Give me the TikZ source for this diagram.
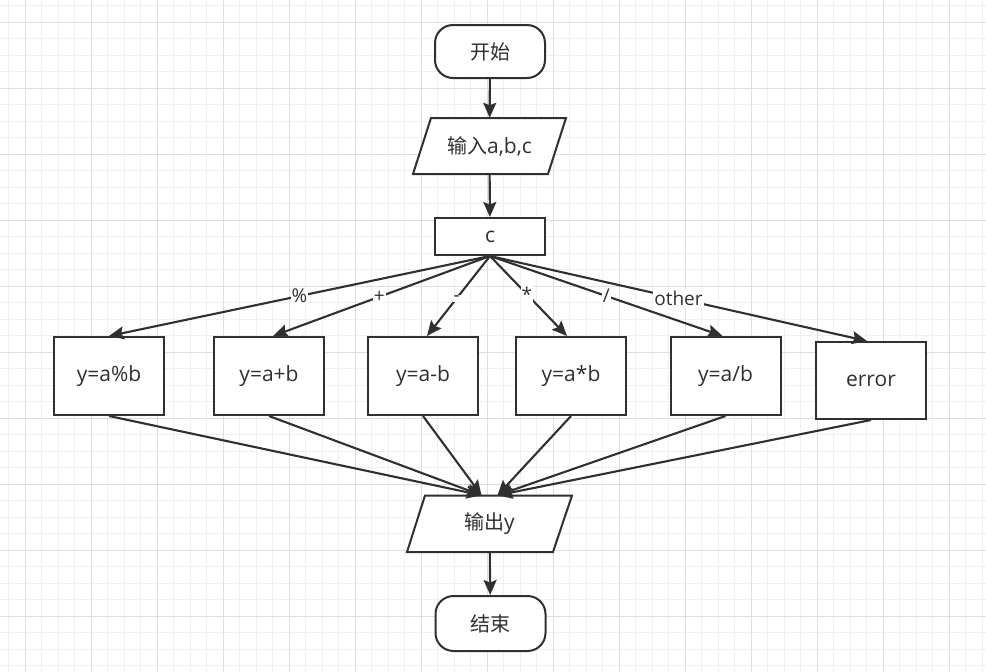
\documentclass[tikz,border=0pt]{standalone}
\usepackage{fontspec}
\setmainfont{Open Sans}
\newfontfamily\cjk{Noto Sans CJK SC}
\usetikzlibrary{arrows.meta}
\definecolor{ln}{HTML}{303030}
\definecolor{gmin}{HTML}{F0F0F0}
\definecolor{gmaj}{HTML}{DEDEDE}
\begin{document}
\begin{tikzpicture}[x=1pt,y=-1pt,
  base/.style={inner sep=0pt,text=ln,font=\fontsize{21}{25}\selectfont},
  box/.style={base,draw=ln,line width=2pt,fill=white,minimum width=110pt,minimum height=78pt},
  term/.style={base,draw=ln,line width=2pt,fill=white,rounded corners=18pt,minimum width=110pt,minimum height=53pt},
  pbox/.style={base,minimum width=134pt,minimum height=56pt},
  para/.style={draw=ln,line width=2pt,fill=white,line join=miter},
  arr/.style={draw=ln,line width=2.1pt,-{Stealth[length=15pt,width=13pt,inset=2.5pt]}},
  lab/.style={fill=white,inner sep=1pt,text=ln,font=\fontsize{19}{22}\selectfont},
  gminor/.style={draw=gmin,line width=1pt},
  gmajor/.style={draw=gmaj,line width=1pt}
]
\newcommand\zh[1]{{\cjk\fontsize{20}{24}\selectfont #1}}
\useasboundingbox (0,0) rectangle (986,672);
\fill[white] (0,0) rectangle (986,672);
% grid
\foreach \i in {-1,...,58} {\draw[gminor] ({25+16.5*\i},0) -- ({25+16.5*\i},672);}
\foreach \j in {-1,...,39} {\draw[gminor] (0,{22+16.5*\j}) -- (986,{22+16.5*\j});}
\foreach \i in {0,...,14} {\draw[gmajor] ({25+66*\i},0) -- ({25+66*\i},672);}
\foreach \j in {0,...,9} {\draw[gmajor] (0,{22+66*\j}) -- (986,{22+66*\j});}

% start
\node[term] (start) at (490,51.5) {\zh{开始}};
% input parallelogram
\draw[para] (431,118) -- (566,118) -- (548,174) -- (413,174) -- cycle;
\node[pbox] (input) at (489.5,146) {\zh{输入}a,b,c};
% switch
\node[box,minimum height=37pt] (c) at (490,236.5) {c};
% cases
\node[box] (mod) at (109,376) {y=a\%b};
\node[box] (add) at (269,376) {y=a+b};
\node[box] (sub) at (423,376) {y=a-b};
\node[box] (mul) at (571,376) {y=a*b};
\node[box] (div) at (725.5,376) {y=a/b};
\node[box,minimum height=77pt] (err) at (871,380.5) {error};
% output parallelogram
\draw[para] (425,495.5) -- (572,495.5) -- (553,552) -- (407,552) -- cycle;
\node[pbox,minimum height=56.5pt] (out) at (489.5,523.75) {\zh{输出}y};
% end
\node[term,minimum height=55pt] (end) at (490.5,623.5) {\zh{结束}};

% connectors
\draw[arr] (start) -- (input);
\draw[arr] (input) -- (c);
\draw[arr] (c.south) -- (mod.north) node[lab,pos=0.5] {\%};
\draw[arr] (c.south) -- ([xshift=4pt]add.north) node[lab,pos=0.51] {+};
\draw[arr] (c.south) -- ([xshift=4pt]sub.north) node[lab,pos=0.53] {-};
\draw[arr] (c.south) -- ([xshift=-4pt]mul.north) node[lab,pos=0.48] {*};
\draw[arr] (c.south) -- ([xshift=-3pt]div.north) node[lab,pos=0.5] {/};
\draw[arr] (c.south) -- ([xshift=-4pt]err.north) node[lab,pos=0.5] {other};

\draw[arr] (mod.south) -- ([xshift=-8pt]out.north);
\draw[arr] (add.south) -- ([xshift=-8pt]out.north);
\draw[arr] (sub.south) -- ([xshift=-8pt]out.north);
\draw[arr] (mul.south) -- ([xshift=8pt]out.north);
\draw[arr] (div.south) -- ([xshift=8pt]out.north);
\draw[arr] (err.south) -- ([xshift=8pt]out.north);
\draw[arr] (out) -- (end);
\end{tikzpicture}
\end{document}
